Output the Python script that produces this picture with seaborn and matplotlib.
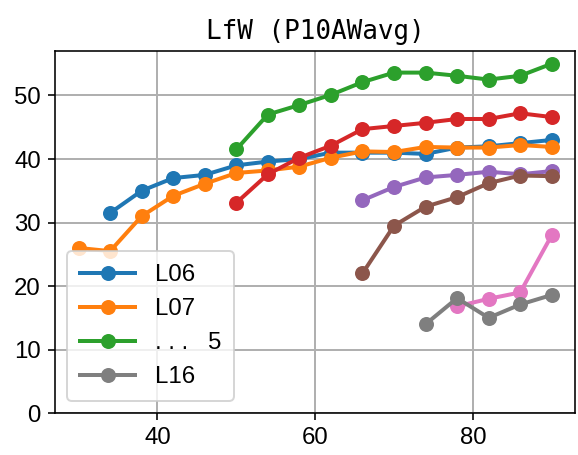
import matplotlib
matplotlib.use("Agg")
import matplotlib.pyplot as plt
import seaborn as sns
import pandas as pd

# ---- data ----
x_L06 = [34, 38, 42, 46, 50, 54, 58, 62, 66, 70, 74, 78, 82, 86, 90]
y_L06 = [31.5, 35.0, 37.0, 37.5, 39.0, 39.6, 40.0, 41.0, 41.0, 41.0, 40.8, 41.8, 42.0, 42.5, 43.0]

x_L07 = [30, 34, 38, 42, 46, 50, 54, 58, 62, 66, 70, 74, 78, 82, 86, 90]
y_L07 = [26.0, 25.5, 31.0, 34.2, 36.1, 37.8, 38.2, 38.8, 40.2, 41.2, 41.1, 41.9, 41.8, 41.8, 42.2, 41.9]

x_G = [50, 54, 58, 62, 66, 70, 74, 78, 82, 86, 90]
y_G = [41.5, 47.0, 48.5, 50.1, 52.1, 53.6, 53.6, 53.1, 52.5, 53.1, 55.0]

x_R = [50, 54, 58, 62, 66, 70, 74, 78, 82, 86, 90]
y_R = [33.1, 37.6, 40.2, 42.1, 44.7, 45.2, 45.7, 46.3, 46.3, 47.2, 46.6]

x_P = [66, 70, 74, 78, 82, 86, 90]
y_P = [33.5, 35.6, 37.1, 37.5, 38.0, 37.6, 38.1]

x_B = [66, 70, 74, 78, 82, 86, 90]
y_B = [22.0, 29.5, 32.5, 34.0, 36.2, 37.4, 37.3]

x_K = [78, 82, 86, 90]
y_K = [16.8, 18.0, 19.0, 28.0]

x_L16 = [74, 78, 82, 86, 90]
y_L16 = [14.0, 18.1, 15.0, 17.1, 18.6]

labels = ["L06", "L07", ". . .   5", "_s4", "_s5", "_s6", "_s7", "L16"]
series_x = [x_L06, x_L07, x_G, x_R, x_P, x_B, x_K, x_L16]
series_y = [y_L06, y_L07, y_G, y_R, y_P, y_B, y_K, y_L16]
title = "LfW (P10AWavg)"

# ---- plot ----
plt.rcParams["font.family"] = ["Liberation Sans", "DejaVu Sans"]
fig = plt.figure(figsize=(578 / 144, 455 / 144), dpi=144)
ax = fig.add_axes([0.095, 0.092, 0.9005, 0.7966])

for i, (xs, ys, lab) in enumerate(zip(series_x, series_y, labels)):
    df = pd.DataFrame({"x": xs, "y": ys})
    sns.lineplot(data=df, x="x", y="y", ax=ax, color=f"C{i}", label=lab,
                 marker="o", markersize=7.5, linewidth=2,
                 markeredgecolor=f"C{i}", markeredgewidth=0, legend=True)

ax.set_ylim(bottom=0)
ax.set_xticks([40, 60, 80])
ax.set_yticks([0, 10, 20, 30, 40, 50])
ax.grid(True, color="#b0b0b0", linewidth=1)
ax.set_axisbelow(True)
ax.set_xlabel("")
ax.set_ylabel("")
ax.tick_params(labelsize=12)
for s in ax.spines.values():
    s.set_color("black")
ax.set_title(title, fontsize=13, family=["DejaVu Sans Mono", "Noto Sans CJK JP"])

handles, labs = ax.get_legend_handles_labels()
ax.legend(handles, labs, loc="lower left", fontsize=12, framealpha=0.8,
          handlelength=2.3, borderpad=0.55)

fig.savefig("out.png", dpi=144)
